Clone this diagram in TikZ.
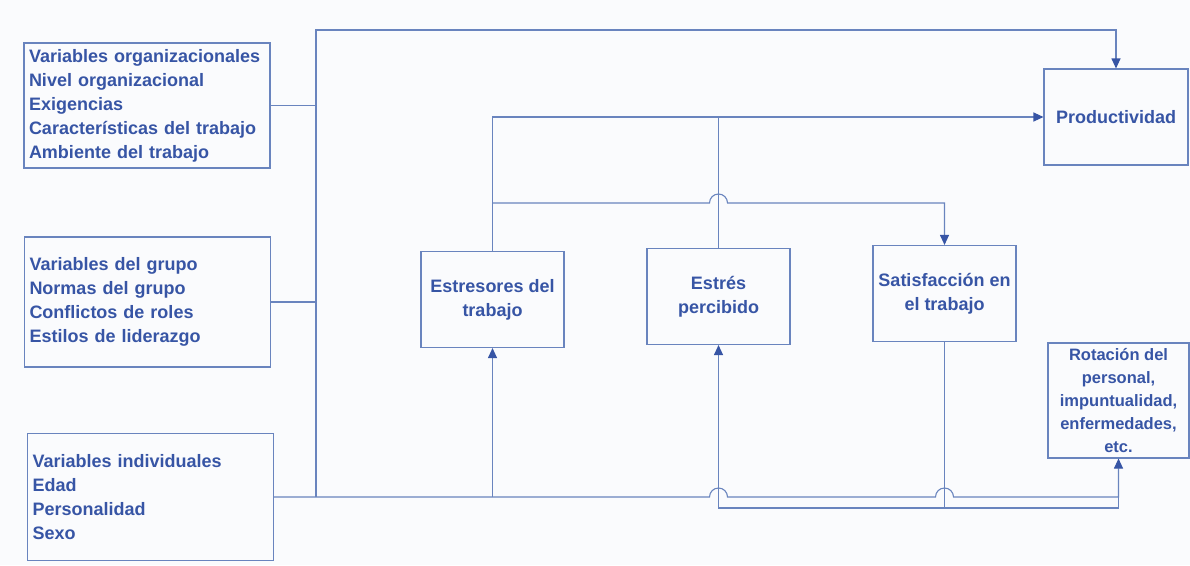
\documentclass[tikz,border=0pt]{standalone}
\usepackage{fontspec}
\setmainfont{Liberation Sans}
\usepackage{tikz}
\usetikzlibrary{arrows.meta,calc}
\definecolor{diagtext}{RGB}{55,85,165}
\definecolor{diagline}{RGB}{105,132,190}
\definecolor{paper}{RGB}{250,251,253}

\begin{document}
\begin{tikzpicture}[x=1pt,y=-1pt,
    module/.style={rectangle, draw=diagline, line width=1.1pt, text=diagtext, inner sep=0pt, font=\fontsize{18}{24}\selectfont\bfseries},
    varbox/.style={module, align=left, inner xsep=5pt, text width=236pt, minimum width=246pt},
    stage/.style={module, align=center, minimum width=143pt, minimum height=96pt},
    wire/.style={draw=diagline, line width=1.1pt},
    arrow/.style={wire, -{Triangle[length=10pt,width=9pt,color=diagtext]}}
]
    \fill[paper] (0,0) rectangle (1190,565);

    \node[varbox, minimum height=125pt] (org) at (147,105.5) {Variables organizacionales\\Nivel organizacional\\Exigencias\\Características del trabajo\\Ambiente del trabajo};
    \node[varbox, minimum height=130pt] (grp) at (147.5,302) {Variables del grupo\\Normas del grupo\\Conflictos de roles\\Estilos de liderazgo};
    \node[varbox, minimum height=127pt] (ind) at (150.5,497) {Variables individuales\\Edad\\Personalidad\\Sexo};

    \node[stage] (stressor) at (492.5,299.5) {Estresores del\\trabajo};
    \node[stage] (stress) at (718.5,296.5) {Estrés\\percibido};
    \node[stage] (satisf) at (944.5,293.5) {Satisfacción en\\el trabajo};
    \node[stage, minimum width=144pt] (prod) at (1116,117) {Productividad};
    \node[stage, minimum width=141pt, minimum height=115pt, font=\fontsize{16.5}{23}\selectfont\bfseries] (turn) at (1118.5,400.5) {Rotación del\\personal,\\impuntualidad,\\enfermedades,\\etc.};

    \coordinate (trunk) at (316,30);
    \coordinate (mid) at (0,203);
    \coordinate (low) at (0,508);

    \draw[wire] (org.east) -- (org.east -| trunk);
    \draw[wire] (grp.east) -- (grp.east -| trunk);
    \draw[arrow] (trunk |- ind.east) -- (trunk) -| (prod.north);

    \draw[arrow] (ind.east) -- ($(stress.south |- ind.east)+(-9,0)$) arc[start angle=180, end angle=0, radius=9pt]
        -- ($(satisf.south |- ind.east)+(-9,0)$) arc[start angle=180, end angle=0, radius=9pt]
        -- (turn.south |- ind.east) -- (turn.south);
    \draw[arrow] (stressor.south |- ind.east) -- (stressor.south);
    \draw[arrow] (satisf.south) -- (satisf.south |- low) -| (stress.south);
    \draw[wire] (satisf.south |- low) -| (turn.south |- ind.east);

    \draw[arrow] (stressor.north) |- (prod.west);
    \draw[wire] (stress.north) -- (stress.north |- prod.west);
    \draw[arrow] (stressor.north |- mid) -- ($(stress.north |- mid)+(-9,0)$) arc[start angle=180, end angle=0, radius=9pt] -| (satisf.north);
\end{tikzpicture}
\end{document}
